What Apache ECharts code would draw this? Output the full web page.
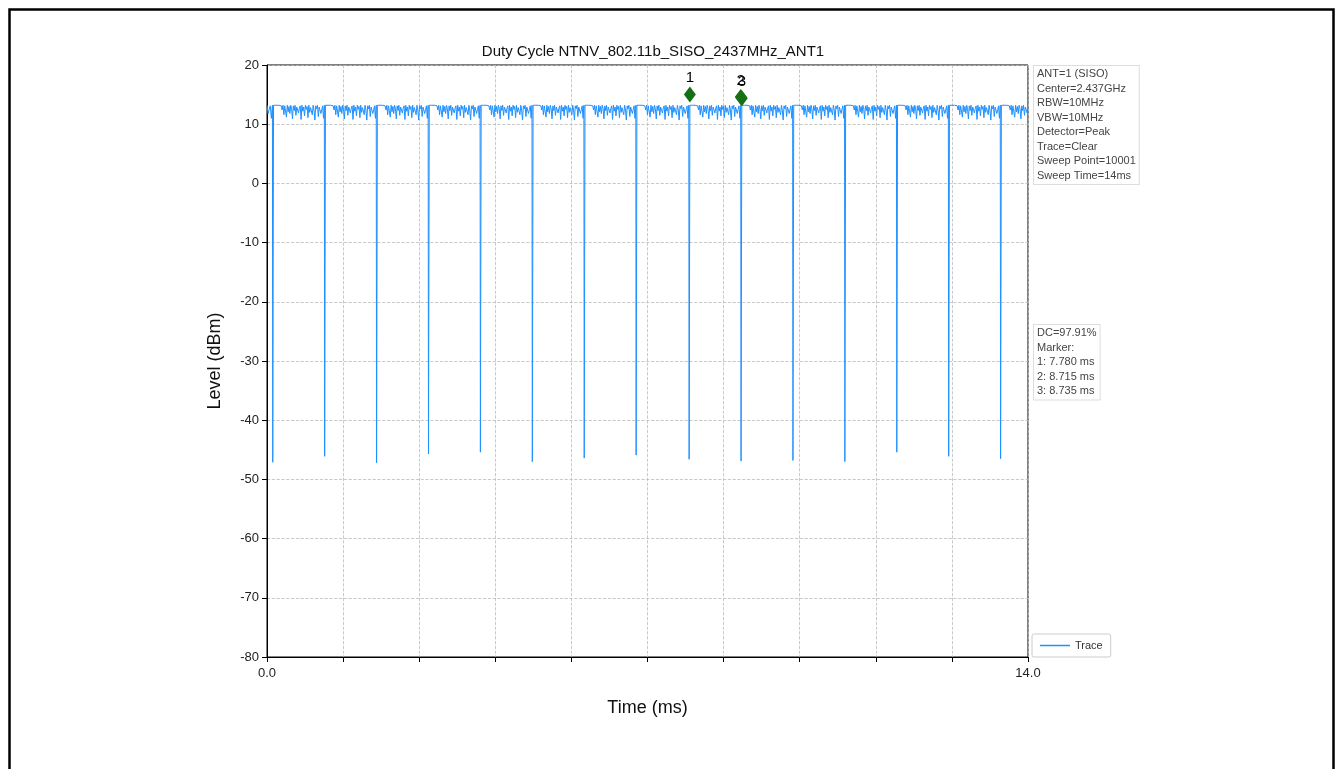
<!DOCTYPE html>
<html>
<head>
<meta charset="utf-8">
<script src="https://cdn.jsdelivr.net/npm/echarts@6/dist/echarts.min.js"></script>
<style>
  html, body { margin: 0; padding: 0; background: #fff; }
  #chart { width: 1338px; height: 769px; }
</style>
</head>
<body>
<div id="chart"></div>
<script>
// dips (burst gaps): start time in ms and bottom level in dBm
var dipStart = [0.10, 1.055, 2.01, 2.965, 3.92, 4.875, 5.83, 6.785, 7.76, 8.715, 9.67, 10.625, 11.58, 12.535, 13.49];
var dipDepth = [-47.1, -46.1, -47.2, -45.7, -45.4, -47.0, -46.4, -45.9, -46.6, -46.9, -46.8, -47.0, -45.4, -46.1, -46.5];
var dipWidth = 0.02;
// level shape seen across one burst (dBm)
var burstShape = [13.2, 13.1, 13.2, 13.2, 13.1, 13.2, 13.2, 13.0, 13.2, 13.1,
    12.4, 13.2, 11.6, 13.1, 12.8, 11.2, 13.2, 12.1, 13.0, 11.8,
    13.2, 12.6, 10.9, 13.1, 12.3, 13.2, 11.5, 12.9, 13.2, 11.9,
    12.7, 13.1, 10.8, 13.2, 12.2, 12.9, 11.4, 13.2, 12.5, 13.0,
    11.1, 13.2, 12.0, 12.8, 13.1, 11.6, 13.2, 12.4, 10.7, 13.1,
    12.6, 13.2, 11.3, 12.9, 13.2, 11.8, 12.5, 13.1, 11.0, 13.2];
var markerNames = ['1', '2', '3'];
var markerTimes = [7.780, 8.715, 8.735];
var markerLevels = [15.0, 14.6, 14.4];
var infoLines = ['ANT=1 (SISO)', 'Center=2.437GHz', 'RBW=10MHz', 'VBW=10MHz', 'Detector=Peak',
    'Trace=Clear', 'Sweep Point=10001', 'Sweep Time=14ms'];
var resultLines = ['DC=97.91%', 'Marker:', '1: 7.780 ms', '2: 8.715 ms', '3: 8.735 ms'];

var chart = echarts.init(document.getElementById('chart'));

// build trace from the bursts and gaps
var trace = [];
function pushBurst(a, b, fromEnd) {
    var n = Math.max(2, Math.round(burstShape.length * (b - a) / 0.935));
    if (n > burstShape.length) n = burstShape.length;
    var vals = fromEnd ? burstShape.slice(burstShape.length - n) : burstShape.slice(0, n);
    for (var i = 0; i < vals.length; i++) {
        trace.push([a + (b - a) * i / (vals.length - 1), vals[i]]);
    }
}
var t0 = 0;
for (var i = 0; i < dipStart.length; i++) {
    pushBurst(t0, dipStart[i], i === 0);
    trace.push([dipStart[i] + 0.006, dipDepth[i]]);
    t0 = dipStart[i] + dipWidth;
}
pushBurst(t0, 14, false);

var markerData = [];
for (var k = 0; k < markerTimes.length; k++) {
    markerData.push({ value: [markerTimes[k], markerLevels[k]], name: markerNames[k] });
}

var option = {
    backgroundColor: '#fff',
    animation: false,
    title: {
        text: 'Duty Cycle NTNV_802.11b_SISO_2437MHz_ANT1',
        left: 648,
        textAlign: 'center',
        top: 39,
        textStyle: { fontFamily: 'Liberation Sans', fontSize: 15, fontWeight: 'normal', color: '#111' }
    },
    grid: { left: 267, right: 310, top: 65, bottom: 112, show: true, borderColor: '#000', borderWidth: 1 },
    legend: {
        left: 1032, top: 634,
        orient: 'vertical',
        data: ['Trace'],
        icon: 'rect',
        itemWidth: 30, itemHeight: 1.5,
        borderColor: '#ccc', borderWidth: 1, borderRadius: 2,
        padding: [6, 8],
        textStyle: { fontFamily: 'Liberation Sans', fontSize: 11, color: '#333' }
    },
    xAxis: {
        type: 'value', min: 0, max: 14, interval: 1.4,
        name: 'Time (ms)', nameLocation: 'middle', nameGap: 42,
        nameTextStyle: { fontFamily: 'Liberation Sans', fontSize: 18, color: '#111' },
        axisLine: { onZero: false, lineStyle: { color: '#000', width: 1 } },
        axisTick: { length: 5, lineStyle: { color: '#000' } },
        axisLabel: {
            fontFamily: 'Liberation Sans', fontSize: 13, color: '#222', margin: 10,
            formatter: function (v) {
                if (Math.abs(v) < 1e-6 || Math.abs(v - 14) < 1e-6) return v.toFixed(1);
                return '';
            }
        },
        splitLine: { show: true, lineStyle: { color: '#bbb', type: 'dashed', width: 0.8 } }
    },
    yAxis: {
        type: 'value', min: -80, max: 20, interval: 10,
        name: 'Level (dBm)', nameLocation: 'middle', nameGap: 43,
        nameTextStyle: { fontFamily: 'Liberation Sans', fontSize: 18, color: '#111' },
        axisLine: { show: true, onZero: false, lineStyle: { color: '#000', width: 1 } },
        axisTick: { show: true, length: 5, lineStyle: { color: '#000' } },
        axisLabel: { fontFamily: 'Liberation Sans', fontSize: 13, color: '#222', margin: 8 },
        splitLine: { show: true, lineStyle: { color: '#bbb', type: 'dashed', width: 0.8 } }
    },
    series: [
        {
            name: 'Trace',
            type: 'line',
            data: trace,
            showSymbol: false,
            symbol: 'none',
            color: '#1e90ff',
            lineStyle: { color: '#1e90ff', width: 1 }
        },
        {
            name: 'Markers',
            type: 'scatter',
            data: markerData,
            symbol: 'diamond',
            symbolSize: [12, 16],
            itemStyle: { color: '#157015', opacity: 1 },
            label: {
                show: true, position: 'top', distance: 1,
                formatter: '{b}',
                fontFamily: 'Liberation Sans', fontSize: 15, color: '#000'
            },
            z: 5
        }
    ],
    graphic: [
        {
            type: 'rect', left: 7, top: 7, z: -10, silent: true,
            shape: { width: 1324, height: 800 },
            style: { fill: 'none', stroke: '#000', lineWidth: 2.5 }
        },
        {
            type: 'text', left: 1033, top: 65,
            style: {
                text: infoLines.join('\n'),
                font: '11px "Liberation Sans"', fill: '#444', lineHeight: 14.5,
                backgroundColor: '#fff', borderColor: '#ddd', borderWidth: 1, padding: [1, 3]
            }
        },
        {
            type: 'text', left: 1033, top: 324,
            style: {
                text: resultLines.join('\n'),
                font: '11px "Liberation Sans"', fill: '#444', lineHeight: 14.5,
                backgroundColor: '#fff', borderColor: '#ddd', borderWidth: 1, padding: [1, 3]
            }
        }
    ]
};
chart.setOption(option);
</script>
</body>
</html>
